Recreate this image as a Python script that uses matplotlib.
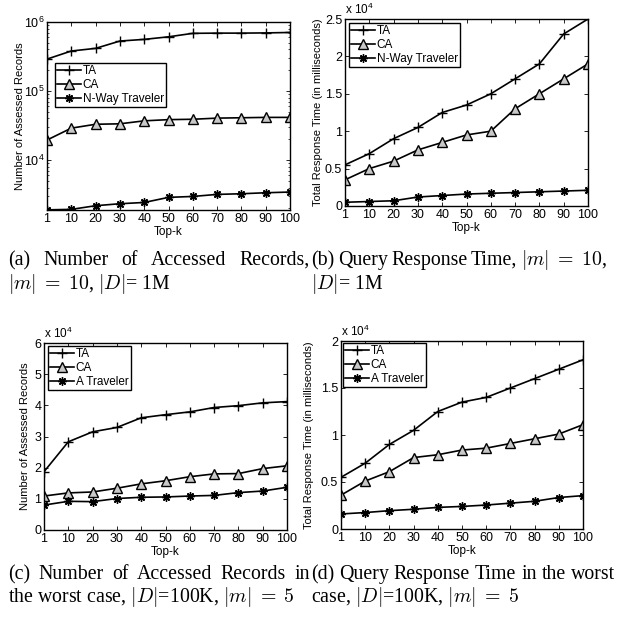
import numpy as np
import matplotlib
matplotlib.use("Agg")
import matplotlib.pyplot as plt
from matplotlib.ticker import FuncFormatter, LogLocator, NullFormatter

plt.rcParams["font.family"] = ["Liberation Sans", "DejaVu Sans"]
plt.rcParams["mathtext.fontset"] = "custom"
plt.rcParams["mathtext.rm"] = "Liberation Sans"
plt.rcParams["mathtext.it"] = "Liberation Sans:italic"

# --- data ---
k_labels = ["1", "10", "20", "30", "40", "50", "60", "70", "80", "90", "100"]

a_ta = [2.9e5, 3.8e5, 4.15e5, 5.3e5, 5.6e5, 6.1e5, 6.85e5, 6.9e5, 6.9e5, 6.95e5, 7.05e5]
a_ca = [1.95e4, 2.9e4, 3.3e4, 3.35e4, 3.7e4, 3.85e4, 3.9e4, 4.05e4, 4.1e4, 4.15e4, 4.15e4]
a_nway = [1900, 1930, 2180, 2330, 2430, 2880, 2970, 3180, 3250, 3360, 3440]

b_ta = [5500, 7000, 9000, 10500, 12500, 13500, 15000, 17000, 19000, 23000, 25000]
b_ca = [3500, 5000, 6000, 7500, 8500, 9500, 10000, 13000, 15000, 17000, 19000]
b_nway = [500, 600, 700, 1200, 1400, 1600, 1700, 1800, 1900, 2000, 2100]

c_ta = [18700, 28300, 31500, 32900, 36000, 37000, 37900, 39300, 39900, 40800, 41200]
c_ca = [10900, 11900, 12200, 13400, 14800, 15800, 17100, 18000, 18100, 19700, 20600]
c_at = [8000, 9200, 9100, 10100, 10500, 10600, 10900, 11100, 12000, 12500, 13700]

d_ta = [5500, 7000, 9000, 10500, 12500, 13500, 14000, 15000, 16000, 17000, 18000]
d_ca = [3600, 5100, 6100, 7600, 7900, 8400, 8600, 9100, 9600, 10100, 11100]
d_at = [1600, 1750, 1950, 2100, 2300, 2400, 2550, 2750, 2950, 3350, 3550]

names_ab = ["TA", "CA", "N-Way Traveler"]
names_cd = ["TA", "CA", "A Traveler"]

W, H = 623, 620
fig = plt.figure(figsize=(W / 100, H / 100), dpi=100)


def px_axes(left, top, right, bottom):
    return fig.add_axes([left / W, (H - bottom) / H, (right - left) / W, (bottom - top) / H])


styles = [
    dict(marker="+", markersize=7, mew=1.0),
    dict(marker="^", markersize=6.5, mew=1.0, markerfacecolor="#c8c8c8"),
    dict(marker=(8, 2, 0), markersize=6, mew=1.0),
]


def draw_panel(ax, series, names, ylabel, legend_xy, ylabel_x):
    x = np.arange(len(k_labels))
    for vals, name, st in zip(series, names, styles):
        ax.plot(x, vals, color="black", lw=1.2, label=name, **st)
    ax.set_xlim(0, len(k_labels) - 1)
    ax.set_xticks(x)
    ax.set_xticklabels(k_labels)
    ax.tick_params(which="both", direction="in", top=True, right=True, labelsize=9, pad=2)
    ax.tick_params(which="major", length=3, width=0.6)
    ax.tick_params(which="minor", length=1.5, width=0.5)
    ax.set_xlabel("Top-k", fontsize=8.5, labelpad=1)
    ax.set_ylabel(ylabel, fontsize=8)
    ax.yaxis.set_label_coords(ylabel_x, 0.5)
    for s in ax.spines.values():
        s.set_linewidth(1.0)
    leg = ax.legend(loc="upper left", bbox_to_anchor=legend_xy, borderaxespad=0, fontsize=8.5,
                    fancybox=False, edgecolor="black", framealpha=1, handlelength=2.0,
                    handletextpad=0.15, labelspacing=0.15, borderpad=0.2)
    leg.get_frame().set_linewidth(1.0)


def sci_axis(ax, top, step):
    ax.set_ylim(0, top)
    ax.set_yticks(np.arange(0, top + 1, step))
    ax.yaxis.set_major_formatter(FuncFormatter(lambda v, p: "%g" % (v / 1e4)))
    ax.text(0, 1.01, r"x 10$^{\mathdefault{4}}$", transform=ax.transAxes, fontsize=8.5,
            ha="left", va="bottom")


# (a) log scale
ax_a = px_axes(47, 22, 290, 210)
draw_panel(ax_a, [a_ta, a_ca, a_nway], names_ab, "Number of Assessed Records", (0.033, 0.782), -0.09)
ax_a.set_yscale("log")
ax_a.set_ylim(1890, 1e6)
ax_a.yaxis.set_major_locator(LogLocator(base=10, numticks=10))
ax_a.yaxis.set_minor_locator(LogLocator(base=10, subs=np.arange(2, 10), numticks=10))
ax_a.yaxis.set_minor_formatter(NullFormatter())

# (b)
ax_b = px_axes(345, 19, 588, 206)
draw_panel(ax_b, [b_ta, b_ca, b_nway], names_ab, "Total Response Time (in milliseconds)", (0.016, 0.979), -0.09)
sci_axis(ax_b, 25000, 5000)

# (c)
ax_c = px_axes(44, 343, 287, 530)
draw_panel(ax_c, [c_ta, c_ca, c_at], names_cd, "Number of Assessed Records", (0.016, 0.984), -0.058)
sci_axis(ax_c, 60000, 10000)

# (d)
ax_d = px_axes(341, 341, 583, 529)
draw_panel(ax_d, [d_ta, d_ca, d_at], names_cd, "Total Response Time (in milliseconds)", (0.008, 0.989), -0.11)
sci_axis(ax_d, 20000, 5000)

# --- captions ---
cap_kw = dict(fontsize=14.3, family="Liberation Serif", math_fontfamily="cm", va="baseline")
renderer = fig.canvas.get_renderer()


def justify(words, x0, x1, y):
    texts = [fig.text(x0 / W, 1 - y / H, w, **cap_kw) for w in words]
    widths = [t.get_window_extent(renderer).width for t in texts]
    gap = (x1 - x0 - sum(widths)) / (len(words) - 1)
    x = x0
    for t, w in zip(texts, widths):
        t.set_x(x / W)
        x += w + gap


def caption(s, x, y):
    fig.text(x / W, 1 - y / H, s, **cap_kw)


m10 = r"$|m|\;=\;10$,"
m5 = r"$|m|\;=\;5$"
justify(["(a)", "Number", "of", "Accessed", "Records,"], 8, 310, 265)
caption(m10 + r" $|D|$= 1M", 8, 289)
justify(["(b)", "Query", "Response", "Time,", m10], 311, 607, 265)
caption(r"$|D|$= 1M", 311, 289)
justify(["(c)", "Number", "of", "Accessed", "Records", "in"], 8, 310, 579)
caption(r"the worst case, $|D|$=100K, " + m5, 8, 602)
justify(["(d)", "Query", "Response", "Time", "in", "the", "worst"], 311, 615, 579)
caption(r"case, $|D|$=100K, " + m5, 311, 602)

fig.savefig("out.png", dpi=100)
